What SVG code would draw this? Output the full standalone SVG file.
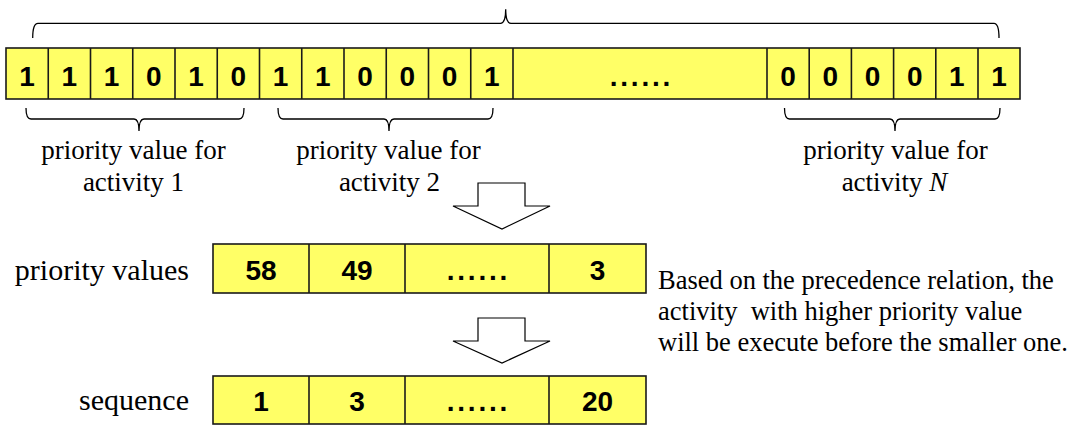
<svg xmlns="http://www.w3.org/2000/svg" width="1079" height="426" viewBox="0 0 1079 426">
<style>
.cell{fill:#ffff66;stroke:#1a1a1a;stroke-width:1.6}
.div{stroke:#1a1a1a;stroke-width:1.6}
.dig{font-family:"Liberation Sans",Arial,sans-serif;font-weight:bold;font-size:28px;text-anchor:middle;fill:#000}
.dots{font-family:"Liberation Sans",Arial,sans-serif;font-weight:bold;font-size:28px;text-anchor:middle;letter-spacing:2.8px;fill:#000}
.lbl{font-family:"Liberation Serif","Times New Roman",serif;font-size:27px;text-anchor:middle;fill:#000}
.side{font-family:"Liberation Serif","Times New Roman",serif;font-size:30px;text-anchor:end;fill:#000}
.note{font-family:"Liberation Serif","Times New Roman",serif;font-size:26.5px;fill:#000}
.brace{fill:none;stroke:#000;stroke-width:1.3}
.arrow{fill:#fff;stroke:#000;stroke-width:1.2}
</style>
<g id="bit-string">
<rect class="cell" x="6" y="48" width="1014" height="51"/>
<g class="div">
<line x1="48.25" y1="48" x2="48.25" y2="99"/>
<line x1="90.5" y1="48" x2="90.5" y2="99"/>
<line x1="132.75" y1="48" x2="132.75" y2="99"/>
<line x1="175" y1="48" x2="175" y2="99"/>
<line x1="217.25" y1="48" x2="217.25" y2="99"/>
<line x1="259.5" y1="48" x2="259.5" y2="99"/>
<line x1="301.75" y1="48" x2="301.75" y2="99"/>
<line x1="344" y1="48" x2="344" y2="99"/>
<line x1="386.25" y1="48" x2="386.25" y2="99"/>
<line x1="428.5" y1="48" x2="428.5" y2="99"/>
<line x1="470.75" y1="48" x2="470.75" y2="99"/>
<line x1="513" y1="48" x2="513" y2="99"/>
<line x1="767" y1="48" x2="767" y2="99"/>
<line x1="809.2" y1="48" x2="809.2" y2="99"/>
<line x1="851.4" y1="48" x2="851.4" y2="99"/>
<line x1="893.6" y1="48" x2="893.6" y2="99"/>
<line x1="935.8" y1="48" x2="935.8" y2="99"/>
<line x1="978" y1="48" x2="978" y2="99"/>
</g>
<text class="dig" x="27.1" y="86">1</text>
<text class="dig" x="69.4" y="86">1</text>
<text class="dig" x="111.6" y="86">1</text>
<text class="dig" x="153.9" y="86">0</text>
<text class="dig" x="196.1" y="86">1</text>
<text class="dig" x="238.4" y="86">0</text>
<text class="dig" x="280.6" y="86">1</text>
<text class="dig" x="322.9" y="86">1</text>
<text class="dig" x="365.1" y="86">0</text>
<text class="dig" x="407.4" y="86">0</text>
<text class="dig" x="449.6" y="86">0</text>
<text class="dig" x="491.9" y="86">1</text>
<text class="dots" x="641.4" y="86">......</text>
<text class="dig" x="788.1" y="86">0</text>
<text class="dig" x="830.3" y="86">0</text>
<text class="dig" x="872.5" y="86">0</text>
<text class="dig" x="914.7" y="86">0</text>
<text class="dig" x="956.9" y="86">1</text>
<text class="dig" x="999" y="86">1</text>
</g>
<g id="braces">
<path class="brace" d="M32.7,38 Q32.7,23.3 38,23.3 H500.5 Q505.7,23.3 505.7,9.3 Q505.7,23.3 511,23.3 H994 Q999,23.3 999,38"/>
<path class="brace" d="M26,108 Q26,119 31,119 H134 Q139,119 139,131 Q139,119 144,119 H239 Q244,119 244,108"/>
<path class="brace" d="M278,108 Q278,119 283,119 H384 Q389,119 389,131 Q389,119 394,119 H488 Q493,119 493,108"/>
<path class="brace" d="M784.5,108 Q784.5,119 789.5,119 H890 Q895,119 895,131 Q895,119 900,119 H995 Q1000,119 1000,108"/>
</g>
<g id="label-activity-1">
<text class="lbl" x="133.5" y="159">priority value for</text>
<text class="lbl" x="133.5" y="191">activity 1</text>
</g>
<g id="label-activity-2">
<text class="lbl" x="388.5" y="159">priority value for</text>
<text class="lbl" x="389.5" y="191">activity 2</text>
</g>
<g id="label-activity-N">
<text class="lbl" x="895.5" y="159">priority value for</text>
<text class="lbl" x="894.5" y="191">activity <tspan font-style="italic">N</tspan></text>
</g>
<g id="connectors">
<polygon class="arrow" points="478,183 525,183 525,206 550,206 502,229 453,206 478,206"/>
<polygon class="arrow" points="478,318 525,318 525,341 550,341 502,363 453,341 478,341"/>
</g>
<g id="priority-values">
<text class="side" x="189" y="280">priority values</text>
<rect class="cell" x="213" y="244" width="433" height="49"/>
<line class="div" x1="309" y1="244" x2="309" y2="293"/>
<line class="div" x1="405" y1="244" x2="405" y2="293"/>
<line class="div" x1="549" y1="244" x2="549" y2="293"/>
<text class="dig" x="261" y="280">58</text>
<text class="dig" x="357" y="280">49</text>
<text class="dots" x="478.4" y="280">......</text>
<text class="dig" x="597.5" y="280">3</text>
</g>
<g id="sequence">
<text class="side" x="189" y="410">sequence</text>
<rect class="cell" x="213" y="376" width="433" height="48"/>
<line class="div" x1="309" y1="376" x2="309" y2="424"/>
<line class="div" x1="405" y1="376" x2="405" y2="424"/>
<line class="div" x1="549" y1="376" x2="549" y2="424"/>
<text class="dig" x="261" y="411">1</text>
<text class="dig" x="357" y="411">3</text>
<text class="dots" x="478.4" y="411">......</text>
<text class="dig" x="597.5" y="411">20</text>
</g>
<g id="note">
<text class="note" x="658" y="289">Based on the precedence relation, the</text>
<text class="note" x="658" y="320">activity&#160; with higher priority value</text>
<text class="note" x="658" y="351">will be execute before the smaller one.</text>
</g>
</svg>
